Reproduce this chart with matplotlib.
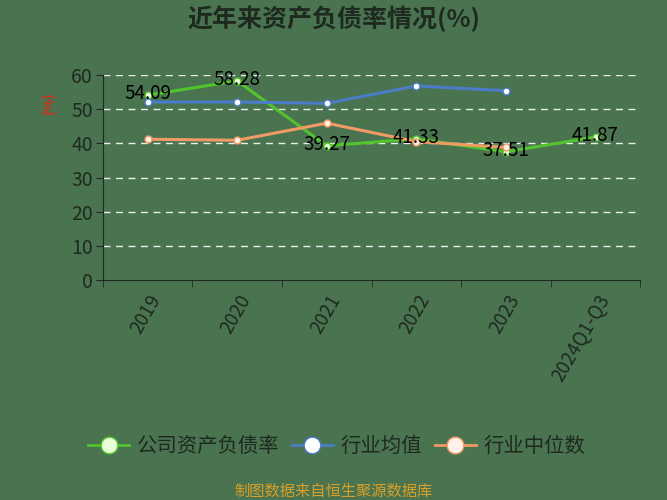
import matplotlib
matplotlib.use("Agg")
import matplotlib.pyplot as plt
from matplotlib.lines import Line2D

plt.rcParams['font.family'] = ['Noto Sans CJK SC', 'DejaVu Sans']

categories = ["2019", "2020", "2021", "2022", "2023", "2024Q1-Q3"]
company = [54.09, 58.28, 39.27, 41.33, 37.51, 41.87]
industry_mean = [52.1, 52.1, 51.7, 56.8, 55.4]
industry_median = [41.2, 40.9, 45.9, 40.5, 38.8]
yticks = [0, 10, 20, 30, 40, 50, 60]

bg = '#4a7350'
c_green = '#52c42c'
c_blue = '#4a7cc8'
c_orange = '#f09a64'
txt = '#1e2a20'

fig = plt.figure(figsize=(6.67, 5.0), dpi=100, facecolor=bg)
ax = fig.add_axes([0.154, 0.44, 0.806, 0.41], facecolor=bg)

x = list(range(len(categories)))
ax.plot(x, company, color=c_green, lw=2.2, marker='o', ms=5, mfc='#e8ffd8', mec=c_green, mew=1, zorder=3)
ax.plot(x[:len(industry_mean)], industry_mean, color=c_blue, lw=2.2, marker='o', ms=5, mfc='white', mec=c_blue, mew=1, zorder=3)
ax.plot(x[:len(industry_median)], industry_median, color=c_orange, lw=2.2, marker='o', ms=5, mfc='#fff0e8', mec=c_orange, mew=1, zorder=3)

for xi, v in zip(x, company):
    ax.annotate(f"{v:.2f}", (xi, v), xytext=(0, 1), textcoords='offset points',
                ha='center', va='center', fontsize=13.5, color='black', zorder=5)

ax.set_xlim(-0.5, len(categories) - 0.5)
ax.set_ylim(0, 60)
ax.set_yticks(yticks)
ax.set_yticklabels([str(t) for t in yticks], fontsize=14, color=txt)
ax.set_xticks(x)
ax.set_xticklabels(categories, rotation=60, fontsize=13.5, color=txt, ha='right', rotation_mode='anchor')
ax.set_xticks([i - 0.5 for i in range(len(categories) + 1)], minor=True)
ax.tick_params(axis='x', which='major', length=0, pad=8)
ax.tick_params(axis='x', which='minor', length=5, color=txt)
ax.tick_params(axis='y', length=5, color=txt, pad=2)

for yv in yticks[1:]:
    ax.axhline(yv, color='#e8efe8', lw=1, ls=(0, (5, 4)), zorder=1)

for s in ['top', 'right']:
    ax.spines[s].set_visible(False)
ax.spines['left'].set_color(txt)
ax.spines['bottom'].set_color(txt)

fig.text(0.073, 0.795, '(%)', rotation=90, color='#d03020', fontsize=9.5, fontweight='bold', ha='center', va='center')

fig.text(0.5, 0.962, '近年来资产负债率情况(%)', ha='center', va='center', fontsize=18, fontweight='bold', color=txt)

handles = [
    Line2D([], [], color=c_green, lw=2, marker='o', ms=12, mfc='#e8ffd8', mec=c_green),
    Line2D([], [], color=c_blue, lw=2, marker='o', ms=12, mfc='white', mec=c_blue),
    Line2D([], [], color=c_orange, lw=2, marker='o', ms=12, mfc='#fff0e8', mec=c_orange),
]
fig.legend(handles, ['公司资产负债率', '行业均值', '行业中位数'], loc='center', bbox_to_anchor=(0.505, 0.107),
           ncol=3, frameon=False, fontsize=14.7, labelcolor=txt, handlelength=2.0, columnspacing=0.6, handletextpad=0.4)

fig.text(0.5, 0.018, '制图数据来自恒生聚源数据库', ha='center', va='center', fontsize=11, color='#d8a028')

fig.savefig('out.png', dpi=100, facecolor=bg)
